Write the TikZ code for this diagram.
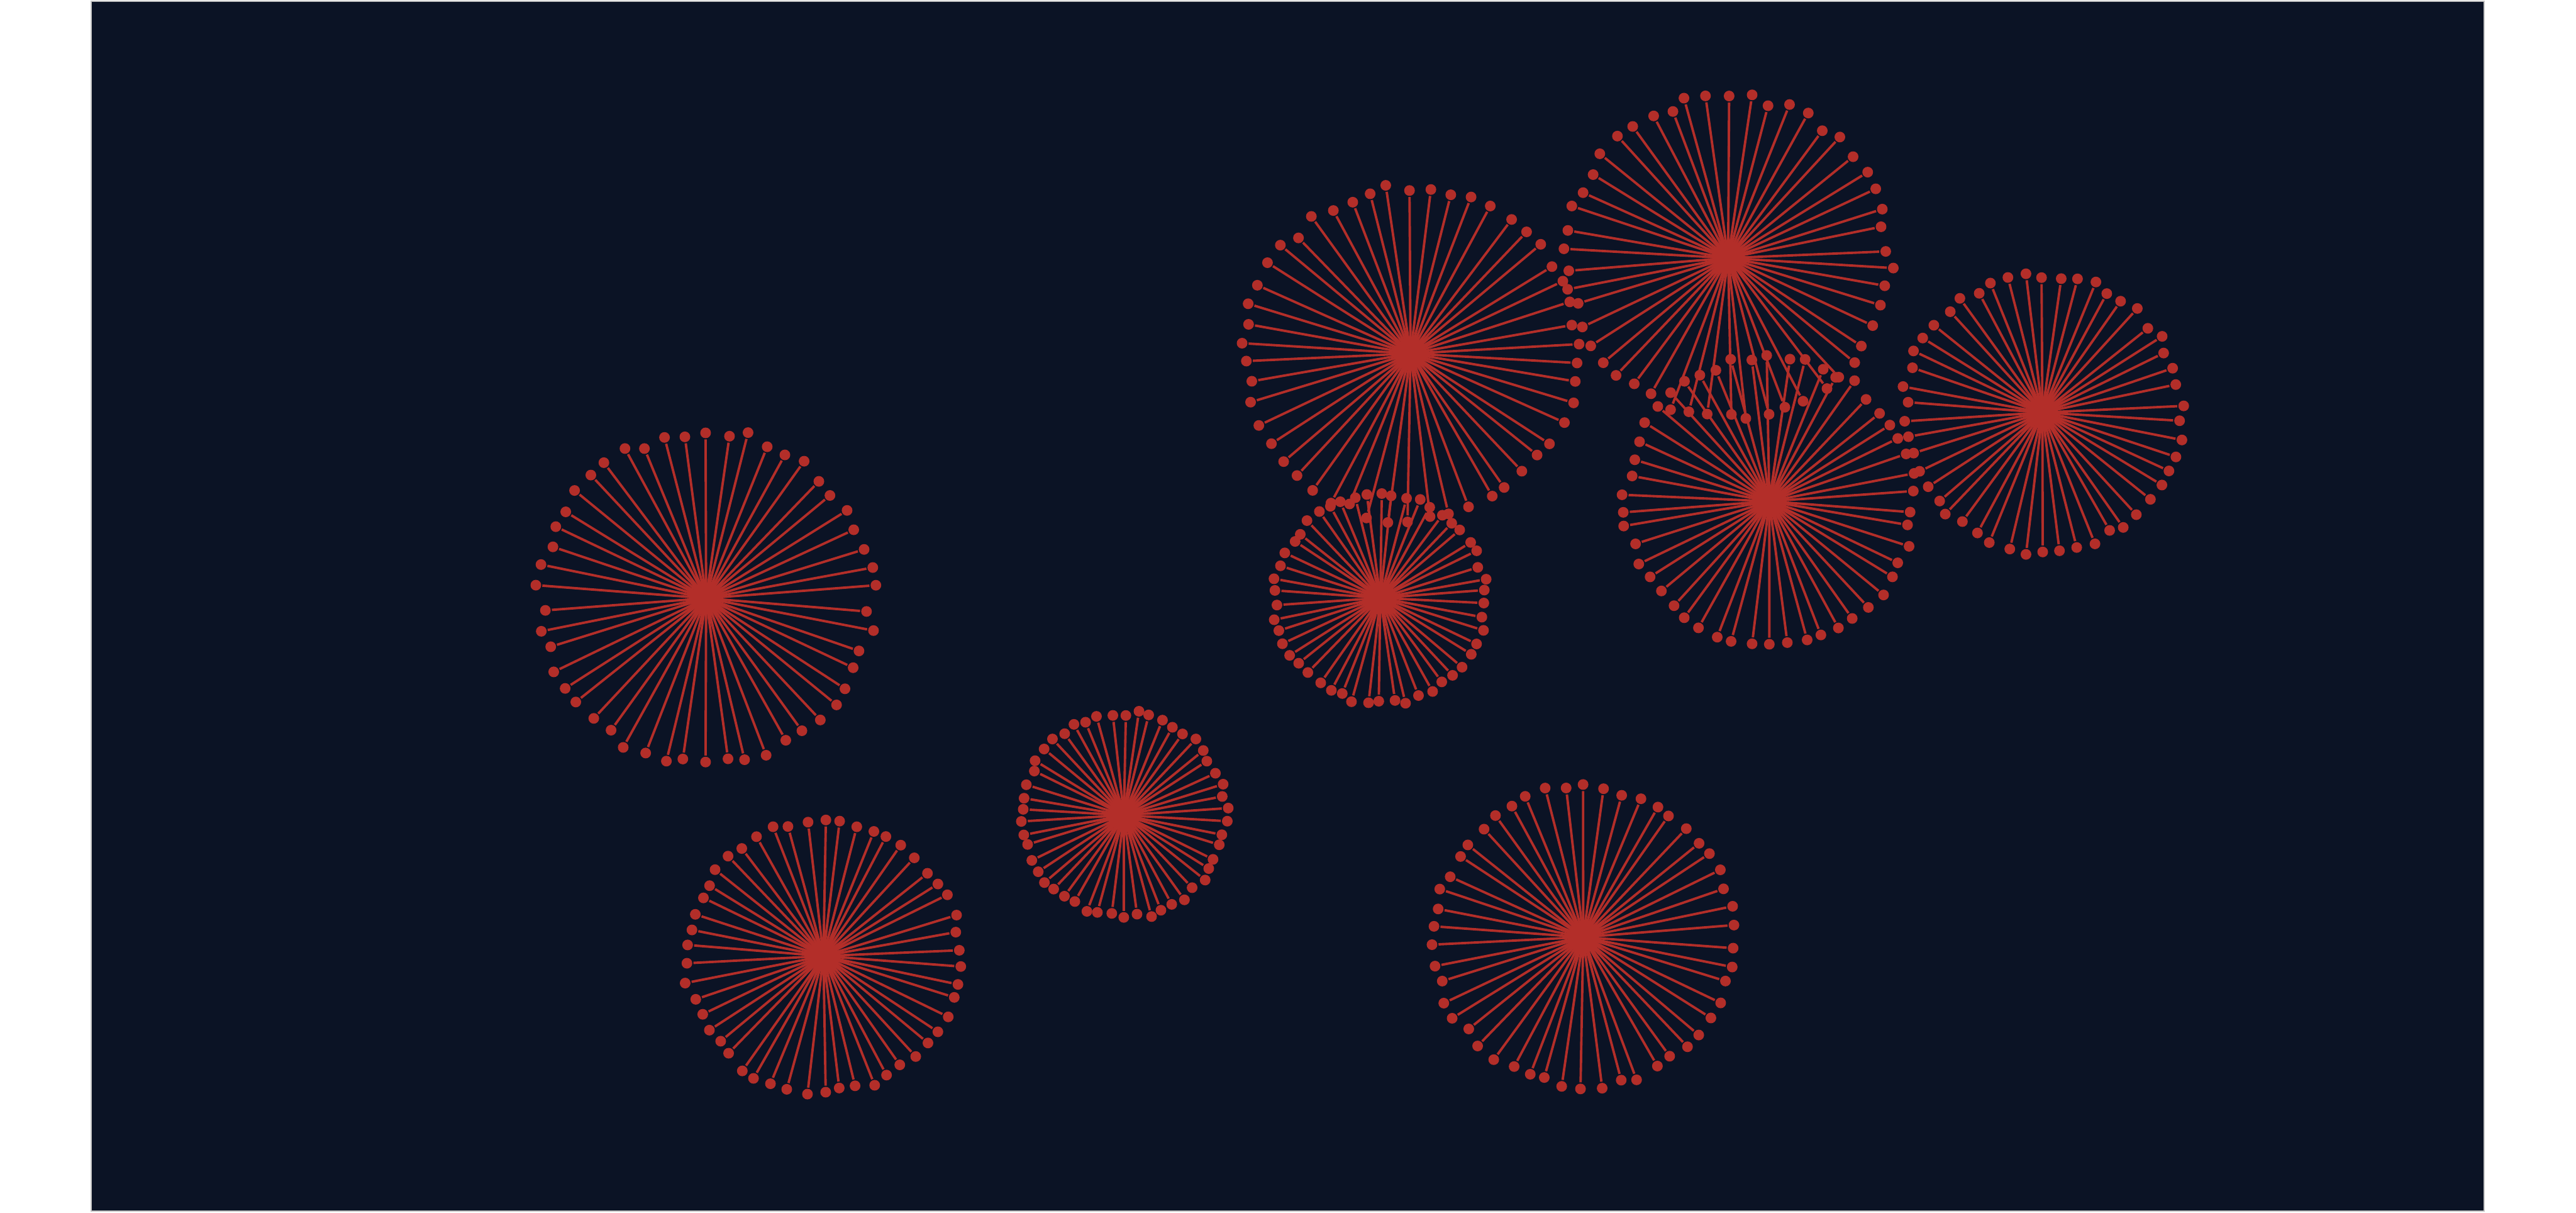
\documentclass[tikz,border=0pt]{standalone}
\usepackage{tikz}

\definecolor{navybg}{HTML}{0B1325}
\definecolor{starred}{HTML}{B32E29}

\begin{document}
\begin{tikzpicture}[x=0.01cm, y=-0.01cm,
  hub/.style={circle, fill=starred, inner sep=0pt, minimum size=1.9mm},
  leaf/.style={circle, fill=starred, inner sep=0pt, minimum size=0.65mm},
  spoke/.style={draw=starred, line width=0.42pt}]
\useasboundingbox (0,0) rectangle (1568,738);
\fill[navybg, draw=gray!45, line width=0.2pt] (55.4,0.6) rectangle (1512.2,737);
\pgfmathsetseed{42}
% nine stars: name / hub x / hub y / radius
\foreach \s/\cx/\cy/\rr in {a/429.8/364/104, b/501.2/581.7/86, c/684.1/496/64,
    d/858.6/215.1/104, e/1051.9/157/101, f/1077/305/90,
    g/1243.2/251/87, h/840.2/363.8/66, k/963.7/570.2/94}{
  \node[hub] (\s) at (\cx,\cy) {};
  \foreach \i in {1,...,50}{
    \pgfmathsetmacro\ang{90+7.2*\i+1.2*rand}
    \pgfmathsetmacro\rad{\rr*(0.97+0.03*rand)}
    \pgfmathsetmacro\lx{\cx+\rad*cos(\ang)}
    \pgfmathsetmacro\ly{\cy-\rad*sin(\ang)}
    \node[leaf] (\s\i) at (\lx,\ly) {};
    \draw[spoke] (\s.center) -- (\s\i);
  }
}
\end{tikzpicture}
\end{document}
